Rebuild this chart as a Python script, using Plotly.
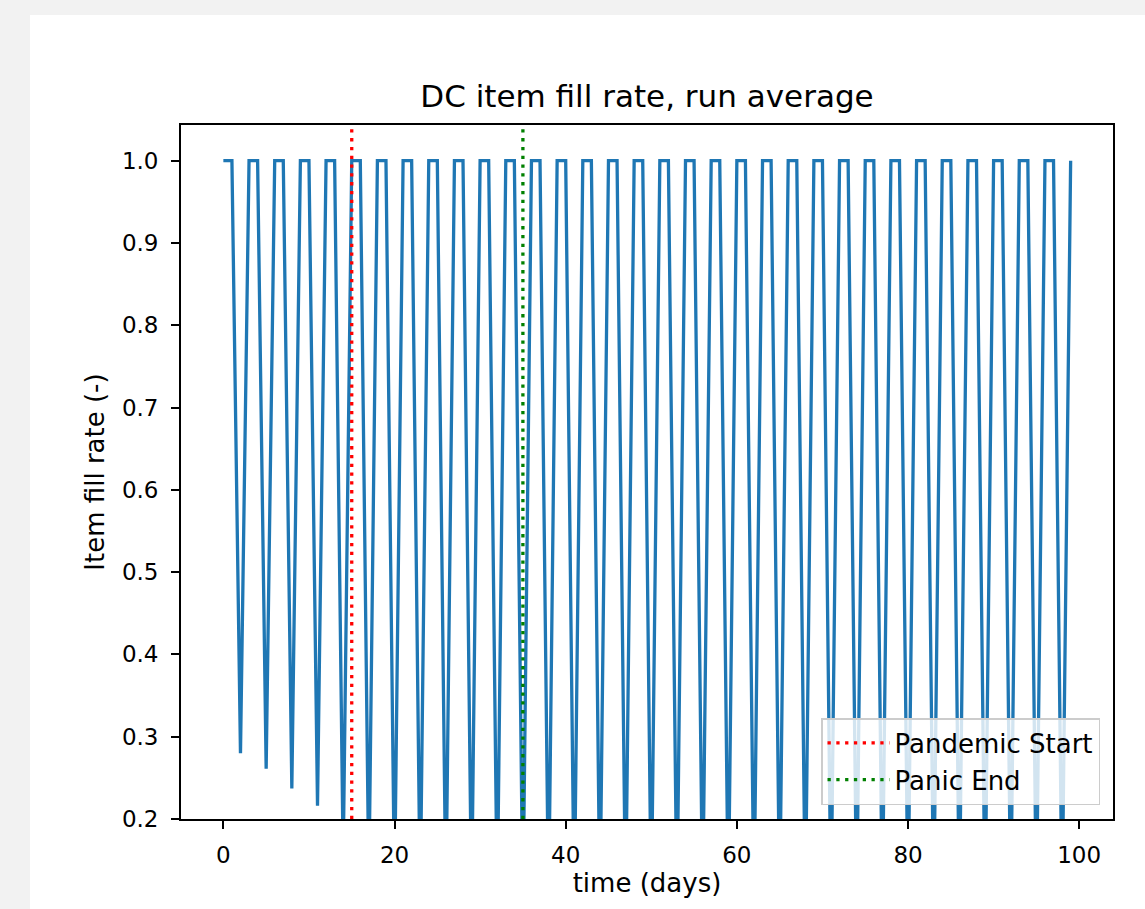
import plotly.graph_objects as go

# ---- data ----
days = list(range(100))
fill_rate = [
    1.0, 1.0, 0.280, 1.0, 1.0, 0.261, 1.0, 1.0, 0.237, 1.0,
    1.0, 0.216, 1.0, 1.0, 0.150, 1.0, 1.0, 0.120, 1.0, 1.0,
    0.110, 1.0, 1.0, 0.100, 1.0, 1.0, 0.100, 1.0, 1.0, 0.095,
    1.0, 1.0, 0.095, 1.0, 1.0, 0.090, 1.0, 1.0, 0.090, 1.0,
    1.0, 0.090, 1.0, 1.0, 0.090, 1.0, 1.0, 0.090, 1.0, 1.0,
    0.090, 1.0, 1.0, 0.090, 1.0, 1.0, 0.090, 1.0, 1.0, 0.090,
    1.0, 1.0, 0.090, 1.0, 1.0, 0.090, 1.0, 1.0, 0.090, 1.0,
    1.0, 0.090, 1.0, 1.0, 0.090, 1.0, 1.0, 0.090, 1.0, 1.0,
    0.090, 1.0, 1.0, 0.090, 1.0, 1.0, 0.090, 1.0, 1.0, 0.090,
    1.0, 1.0, 0.090, 1.0, 1.0, 0.090, 1.0, 1.0, 0.090, 1.0,
]
event_names = ["Pandemic Start", "Panic End"]
event_days = [15, 35]
event_colors = ["red", "green"]

x_ticks = [0, 20, 40, 60, 80, 100]
y_ticks = [0.2, 0.3, 0.4, 0.5, 0.6, 0.7, 0.8, 0.9, 1.0]

FONT = "DejaVu Sans"
W, H = 1145, 909
L, R, T, B = 181, 32, 125, 90
PW, PH = W - L - R, H - T - B

fig = go.Figure()
fig.add_trace(go.Scatter(
    x=days, y=fill_rate, mode="lines",
    line=dict(color="#1f77b4", width=3.3),
    showlegend=False, hoverinfo="skip",
))

shapes = []
# white figure area on the grey page
shapes.append(dict(
    type="rect", xref="paper", yref="paper", layer="below",
    x0=(30 - L) / PW, x1=(W - L) / PW,
    y0=-B / PH, y1=(H - B - 15) / PH,
    fillcolor="white", line=dict(width=0),
))
for i, (name, d, c) in enumerate(zip(event_names, event_days, event_colors)):
    shapes.append(dict(
        type="line", xref="x", yref="y domain",
        x0=d, x1=d, y0=0, y1=1,
        line=dict(color=c, width=3.3, dash="3.3px,5.5px"),
        showlegend=True, name=name, legendgroup=f"g{i}", layer="above",
    ))

fig.update_layout(
    width=W, height=H, autosize=False,
    margin=dict(l=L, r=R, t=T, b=B),
    paper_bgcolor="#f2f2f2", plot_bgcolor="white",
    font=dict(family=FONT, size=23, color="black"),
    shapes=shapes,
    title=dict(
        text="DC item fill rate, run average",
        font=dict(family=FONT, size=31, color="black"),
        x=0.5, xref="paper", xanchor="center",
        y=1, yref="paper", yanchor="bottom",
        pad=dict(b=18),
    ),
    xaxis=dict(
        range=[-4.95, 103.95], tickvals=x_ticks,
        ticktext=[str(v) for v in x_ticks],
        showgrid=False, zeroline=False,
        showline=True, mirror=True, linecolor="black", linewidth=1.8,
        ticks="outside", ticklen=8, tickwidth=1.8, tickcolor="black",
        ticklabelstandoff=6,
        title=dict(text="time (days)", standoff=7,
                   font=dict(family=FONT, size=26)),
        tickfont=dict(family=FONT, size=23),
    ),
    yaxis=dict(
        range=[0.2, 1.0434], tickvals=y_ticks,
        ticktext=[f"{v:.1f}" for v in y_ticks],
        showgrid=False, zeroline=False,
        showline=True, mirror=True, linecolor="black", linewidth=1.8,
        ticks="outside", ticklen=8, tickwidth=1.8, tickcolor="black",
        ticklabelstandoff=8,
        title=dict(text="Item fill rate (-)", standoff=10,
                   font=dict(family=FONT, size=26)),
        tickfont=dict(family=FONT, size=23),
    ),
    legend=dict(
        x=(1100 - L) / PW, xanchor="right",
        y=(819 - 805) / PH, yanchor="bottom",
        bgcolor="rgba(255,255,255,0.8)",
        bordercolor="#cccccc", borderwidth=1.5,
        font=dict(family=FONT, size=26, color="black"),
        itemwidth=62, traceorder="grouped", tracegroupgap=0,
    ),
)

fig.write_html("out.html")
